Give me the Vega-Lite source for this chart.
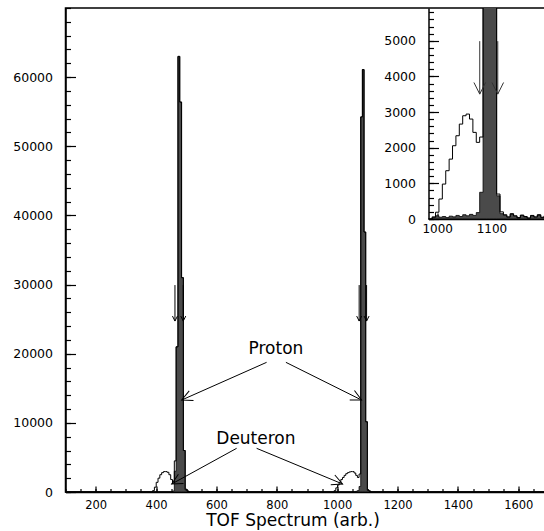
{
  "$schema": "https://vega.github.io/schema/vega-lite/v6.json",
  "width": 483,
  "height": 484,
  "autosize": {"type": "none"},
  "padding": {"left": 65.5, "top": 8, "right": 0, "bottom": 39},
  "background": "white",
  "config": {
    "view": {"stroke": "black", "strokeWidth": 1.5},
    "axis": {"grid": false, "domainColor": "black", "domainWidth": 1.5, "tickColor": "black", "tickWidth": 1.2, "labelColor": "black", "labelFont": "DejaVu Sans", "labelFontSize": 12.5, "titleColor": "black", "titleFont": "DejaVu Sans", "titleFontWeight": "normal", "titleFontSize": 17}
  },
  "datasets": {
    "mainTotal": [
      {"x": 100, "n": 0},
      {"x": 388.5, "n": 200}, {"x": 394.5, "n": 700}, {"x": 400.5, "n": 1400}, {"x": 406.5, "n": 2000}, {"x": 412.5, "n": 2500}, {"x": 418.5, "n": 2800}, {"x": 424.5, "n": 2950}, {"x": 430.5, "n": 2950}, {"x": 436.5, "n": 2850}, {"x": 442.5, "n": 2500}, {"x": 448.5, "n": 1800}, {"x": 454.5, "n": 1300}, {"x": 460.5, "n": 4500}, {"x": 466.5, "n": 21000}, {"x": 472.5, "n": 63000}, {"x": 478.5, "n": 56400}, {"x": 484.5, "n": 31000}, {"x": 490.5, "n": 6000}, {"x": 496.5, "n": 400}, {"x": 502.5, "n": 150}, {"x": 508.5, "n": 0},
      {"x": 990, "n": 200}, {"x": 995.5, "n": 600}, {"x": 1001, "n": 1000}, {"x": 1006.5, "n": 1400}, {"x": 1012, "n": 1800}, {"x": 1017.5, "n": 2100}, {"x": 1023, "n": 2400}, {"x": 1028.5, "n": 2650}, {"x": 1034, "n": 2800}, {"x": 1039.5, "n": 2900}, {"x": 1045, "n": 2950}, {"x": 1050.5, "n": 2950}, {"x": 1056, "n": 2750}, {"x": 1061.5, "n": 2400}, {"x": 1067, "n": 2100}, {"x": 1072.5, "n": 2600}, {"x": 1078, "n": 54250}, {"x": 1083.5, "n": 61100}, {"x": 1089, "n": 37600}, {"x": 1094.5, "n": 10160}, {"x": 1100, "n": 300}, {"x": 1105.5, "n": 150}, {"x": 1111, "n": 0},
      {"x": 1700, "n": 0}
    ],
    "mainSel": [
      {"x": 100, "n": 0},
      {"x": 454.5, "n": 150}, {"x": 460.5, "n": 3000}, {"x": 466.5, "n": 21000}, {"x": 472.5, "n": 63000}, {"x": 478.5, "n": 56400}, {"x": 484.5, "n": 31000}, {"x": 490.5, "n": 6000}, {"x": 496.5, "n": 300}, {"x": 502.5, "n": 100}, {"x": 508.5, "n": 0},
      {"x": 1061.5, "n": 100}, {"x": 1067, "n": 200}, {"x": 1072.5, "n": 800}, {"x": 1078, "n": 54250}, {"x": 1083.5, "n": 61100}, {"x": 1089, "n": 37600}, {"x": 1094.5, "n": 10160}, {"x": 1100, "n": 250}, {"x": 1105.5, "n": 100}, {"x": 1111, "n": 0},
      {"x": 1700, "n": 0}
    ],
    "insetTotal": [
      {"x": 984, "n": 0}, {"x": 990.75, "n": 60}, {"x": 997, "n": 190}, {"x": 1003.25, "n": 560}, {"x": 1009.5, "n": 980}, {"x": 1015.75, "n": 1355}, {"x": 1022, "n": 1680}, {"x": 1028.25, "n": 2056}, {"x": 1034.5, "n": 2336}, {"x": 1040.75, "n": 2663}, {"x": 1047, "n": 2897}, {"x": 1053.25, "n": 2944}, {"x": 1059.5, "n": 2804}, {"x": 1065.75, "n": 2430}, {"x": 1072, "n": 2150}, {"x": 1078.25, "n": 2300}, {"x": 1084.5, "n": 21000}, {"x": 1090.75, "n": 63000}, {"x": 1097, "n": 56000}, {"x": 1103.25, "n": 31000}, {"x": 1109.5, "n": 700}, {"x": 1115.75, "n": 200}, {"x": 1122, "n": 120}, {"x": 1128.25, "n": 60}, {"x": 1134.5, "n": 150}, {"x": 1140.75, "n": 90}, {"x": 1147, "n": 40}, {"x": 1153.25, "n": 110}, {"x": 1159.5, "n": 70}, {"x": 1165.75, "n": 30}, {"x": 1172, "n": 100}, {"x": 1178.25, "n": 60}, {"x": 1184.5, "n": 120}, {"x": 1190.75, "n": 50}, {"x": 1197, "n": 90}, {"x": 1203.25, "n": 40}, {"x": 1209.5, "n": 80}, {"x": 1215.75, "n": 60}, {"x": 1222, "n": 60}
    ],
    "insetSel": [
      {"x": 984, "n": 0}, {"x": 990.75, "n": 40}, {"x": 997, "n": 90}, {"x": 1003.25, "n": 50}, {"x": 1009.5, "n": 70}, {"x": 1015.75, "n": 40}, {"x": 1022, "n": 80}, {"x": 1028.25, "n": 60}, {"x": 1034.5, "n": 100}, {"x": 1040.75, "n": 70}, {"x": 1047, "n": 120}, {"x": 1053.25, "n": 90}, {"x": 1059.5, "n": 130}, {"x": 1065.75, "n": 100}, {"x": 1072, "n": 180}, {"x": 1078.25, "n": 750}, {"x": 1084.5, "n": 21000}, {"x": 1090.75, "n": 63000}, {"x": 1097, "n": 56000}, {"x": 1103.25, "n": 31000}, {"x": 1109.5, "n": 650}, {"x": 1115.75, "n": 150}, {"x": 1122, "n": 100}, {"x": 1128.25, "n": 50}, {"x": 1134.5, "n": 130}, {"x": 1140.75, "n": 80}, {"x": 1147, "n": 30}, {"x": 1153.25, "n": 100}, {"x": 1159.5, "n": 60}, {"x": 1165.75, "n": 20}, {"x": 1172, "n": 90}, {"x": 1178.25, "n": 50}, {"x": 1184.5, "n": 110}, {"x": 1190.75, "n": 40}, {"x": 1197, "n": 80}, {"x": 1203.25, "n": 30}, {"x": 1209.5, "n": 70}, {"x": 1215.75, "n": 50}, {"x": 1222, "n": 50}
    ],
    "cuts": [
      {"x": 462.6, "y": 29928, "y2": 24723},
      {"x": 490.1, "y": 29928, "y2": 24723},
      {"x": 1072.8, "y": 29928, "y2": 24723},
      {"x": 1097.4, "y": 29928, "y2": 24723}
    ],
    "insetCuts": [
      {"x": 1078.4, "y": 4990, "y2": 3504},
      {"x": 1111.6, "y": 4990, "y2": 3504}
    ],
    "pointers": [
      {"id": "pL", "x": 766.2, "y": 18752, "x2": 484.8, "y2": 13301},
      {"id": "pR", "x": 830.1, "y": 18752, "x2": 1080.8, "y2": 13301},
      {"id": "dL", "x": 666.9, "y": 6318, "x2": 451.7, "y2": 1157},
      {"id": "dR", "x": 733.1, "y": 6318, "x2": 1017.9, "y2": 1157}
    ],
    "labels": [
      {"text": "Proton", "x": 797, "y": 20675},
      {"text": "Deuteron", "x": 730.8, "y": 7663}
    ]
  },
  "layer": [
    {
      "layer": [
        {
          "data": {"name": "mainSel"},
          "mark": {"type": "area", "interpolate": "step-after", "fill": "#4a4a4a", "stroke": "black", "strokeWidth": 0.8},
          "encoding": {
            "x": {"field": "x", "type": "quantitative", "scale": {"domain": [100, 1700], "nice": false, "zero": false},
              "axis": {"orient": "bottom", "values": [100,150,200,250,300,350,400,450,500,550,600,650,700,750,800,850,900,950,1000,1050,1100,1150,1200,1250,1300,1350,1400,1450,1500,1550,1600,1650,1700], "tickSize": -3.5, "labels": false, "domain": false, "title": null}},
            "y": {"field": "n", "type": "quantitative", "scale": {"domain": [0, 70000], "nice": false},
              "axis": {"orient": "left", "values": [0,2000,4000,6000,8000,10000,12000,14000,16000,18000,20000,22000,24000,26000,28000,30000,32000,34000,36000,38000,40000,42000,44000,46000,48000,50000,52000,54000,56000,58000,60000,62000,64000,66000,68000,70000], "tickSize": -5, "labels": false, "domain": false, "title": null}}
          }
        },
        {
          "data": {"name": "mainTotal"},
          "mark": {"type": "line", "interpolate": "step-after", "color": "black", "strokeWidth": 1},
          "encoding": {
            "x": {"field": "x", "type": "quantitative", "scale": {"domain": [100, 1700], "nice": false, "zero": false},
              "axis": {"orient": "bottom", "values": [200,400,600,800,1000,1200,1400,1600], "format": "d", "tickSize": -6, "labelPadding": 13, "labelFontSize": 11.5, "title": "TOF Spectrum (arb.)", "titleX": 227, "titleY": 33.5, "titleAnchor": null, "titleAlign": "center", "titleBaseline": "alphabetic"}},
            "y": {"field": "n", "type": "quantitative", "scale": {"domain": [0, 70000], "nice": false},
              "axis": {"orient": "left", "values": [0,10000,20000,30000,40000,50000,60000], "format": "d", "tickSize": -10, "labelPadding": 23, "title": null}}
          }
        },
        {
          "data": {"name": "cuts"},
          "mark": {"type": "rule", "color": "black", "strokeWidth": 1},
          "encoding": {
            "x": {"field": "x", "type": "quantitative", "axis": null},
            "y": {"field": "y", "type": "quantitative", "axis": null},
            "y2": {"field": "y2"}
          }
        },
        {
          "data": {"name": "cuts"},
          "mark": {"type": "point", "shape": "M-1,-0.5L0,0L-1,0.5", "angle": 90, "size": 100, "filled": false, "stroke": "black", "strokeWidth": 1, "opacity": 1},
          "encoding": {
            "x": {"field": "x", "type": "quantitative", "axis": null},
            "y": {"field": "y2", "type": "quantitative", "axis": null}
          }
        },
        {
          "data": {"name": "pointers"},
          "mark": {"type": "rule", "color": "black", "strokeWidth": 1},
          "encoding": {
            "x": {"field": "x", "type": "quantitative", "axis": null},
            "y": {"field": "y", "type": "quantitative", "axis": null},
            "x2": {"field": "x2"},
            "y2": {"field": "y2"}
          }
        },
        {
          "data": {"name": "pointers"},
          "transform": [{"filter": "datum.id === 'pL'"}],
          "mark": {"type": "point", "shape": "M-1,-0.5L0,0L-1,0.5", "angle": 156.1, "size": 450, "filled": false, "stroke": "black", "strokeWidth": 1, "opacity": 1},
          "encoding": {"x": {"field": "x2", "type": "quantitative", "axis": null}, "y": {"field": "y2", "type": "quantitative", "axis": null}}
        },
        {
          "data": {"name": "pointers"},
          "transform": [{"filter": "datum.id === 'pR'"}],
          "mark": {"type": "point", "shape": "M-1,-0.5L0,0L-1,0.5", "angle": 26.5, "size": 450, "filled": false, "stroke": "black", "strokeWidth": 1, "opacity": 1},
          "encoding": {"x": {"field": "x2", "type": "quantitative", "axis": null}, "y": {"field": "y2", "type": "quantitative", "axis": null}}
        },
        {
          "data": {"name": "pointers"},
          "transform": [{"filter": "datum.id === 'dL'"}],
          "mark": {"type": "point", "shape": "M-1,-0.5L0,0L-1,0.5", "angle": 151.2, "size": 450, "filled": false, "stroke": "black", "strokeWidth": 1, "opacity": 1},
          "encoding": {"x": {"field": "x2", "type": "quantitative", "axis": null}, "y": {"field": "y2", "type": "quantitative", "axis": null}}
        },
        {
          "data": {"name": "pointers"},
          "transform": [{"filter": "datum.id === 'dR'"}],
          "mark": {"type": "point", "shape": "M-1,-0.5L0,0L-1,0.5", "angle": 22.5, "size": 450, "filled": false, "stroke": "black", "strokeWidth": 1, "opacity": 1},
          "encoding": {"x": {"field": "x2", "type": "quantitative", "axis": null}, "y": {"field": "y2", "type": "quantitative", "axis": null}}
        },
        {
          "data": {"name": "labels"},
          "mark": {"type": "text", "font": "DejaVu Sans", "fontSize": 17, "color": "black", "align": "center", "baseline": "middle"},
          "encoding": {
            "x": {"field": "x", "type": "quantitative", "axis": null},
            "y": {"field": "y", "type": "quantitative", "axis": null},
            "text": {"field": "text"}
          }
        }
      ],
      "resolve": {"axis": {"x": "independent", "y": "independent"}}
    },
    {
      "layer": [
        {
          "data": {"name": "insetSel"},
          "mark": {"type": "area", "interpolate": "step-after", "fill": "#4a4a4a", "stroke": "black", "strokeWidth": 0.8, "clip": true},
          "encoding": {
            "x": {"field": "x", "type": "quantitative", "scale": {"domain": [984, 1222], "range": [363, 492.2], "nice": false, "zero": false}, "axis": null},
            "y": {"field": "n", "type": "quantitative", "scale": {"domain": [0, 5920], "range": [211, 0], "nice": false},
              "axis": {"orient": "left", "offset": -363, "values": [0,200,400,600,800,1000,1200,1400,1600,1800,2000,2200,2400,2600,2800,3000,3200,3400,3600,3800,4000,4200,4400,4600,4800,5000,5200,5400,5600,5800], "tickSize": -5, "labels": false, "domain": false, "title": null}}
          }
        },
        {
          "data": {"name": "insetTotal"},
          "mark": {"type": "line", "interpolate": "step-after", "color": "black", "strokeWidth": 1, "clip": true},
          "encoding": {
            "x": {"field": "x", "type": "quantitative", "scale": {"domain": [984, 1222], "range": [363, 492.2], "nice": false, "zero": false},
              "axis": {"orient": "bottom", "offset": -273, "values": [1000, 1100], "format": "d", "tickSize": -6, "labelPadding": 10, "labelFontSize": 12, "title": null}},
            "y": {"field": "n", "type": "quantitative", "scale": {"domain": [0, 5920], "range": [211, 0], "nice": false},
              "axis": {"orient": "left", "offset": -363, "values": [0,1000,2000,3000,4000,5000], "format": "d", "tickSize": -10, "labelPadding": 23, "title": null}}
          }
        },
        {
          "data": {"name": "insetCuts"},
          "mark": {"type": "rule", "color": "#333333", "strokeWidth": 1, "clip": true},
          "encoding": {
            "x": {"field": "x", "type": "quantitative", "axis": null},
            "y": {"field": "y", "type": "quantitative", "axis": null},
            "y2": {"field": "y2"}
          }
        },
        {
          "data": {"name": "insetCuts"},
          "mark": {"type": "point", "shape": "M-1,-0.5L0,0L-1,0.5", "angle": 90, "size": 540, "filled": false, "stroke": "#333333", "strokeWidth": 1, "opacity": 1, "clip": true},
          "encoding": {
            "x": {"field": "x", "type": "quantitative", "axis": null},
            "y": {"field": "y2", "type": "quantitative", "axis": null}
          }
        }
      ],
      "resolve": {"axis": {"x": "independent", "y": "independent"}}
    }
  ],
  "resolve": {"scale": {"x": "independent", "y": "independent"}, "axis": {"x": "independent", "y": "independent"}}
}
